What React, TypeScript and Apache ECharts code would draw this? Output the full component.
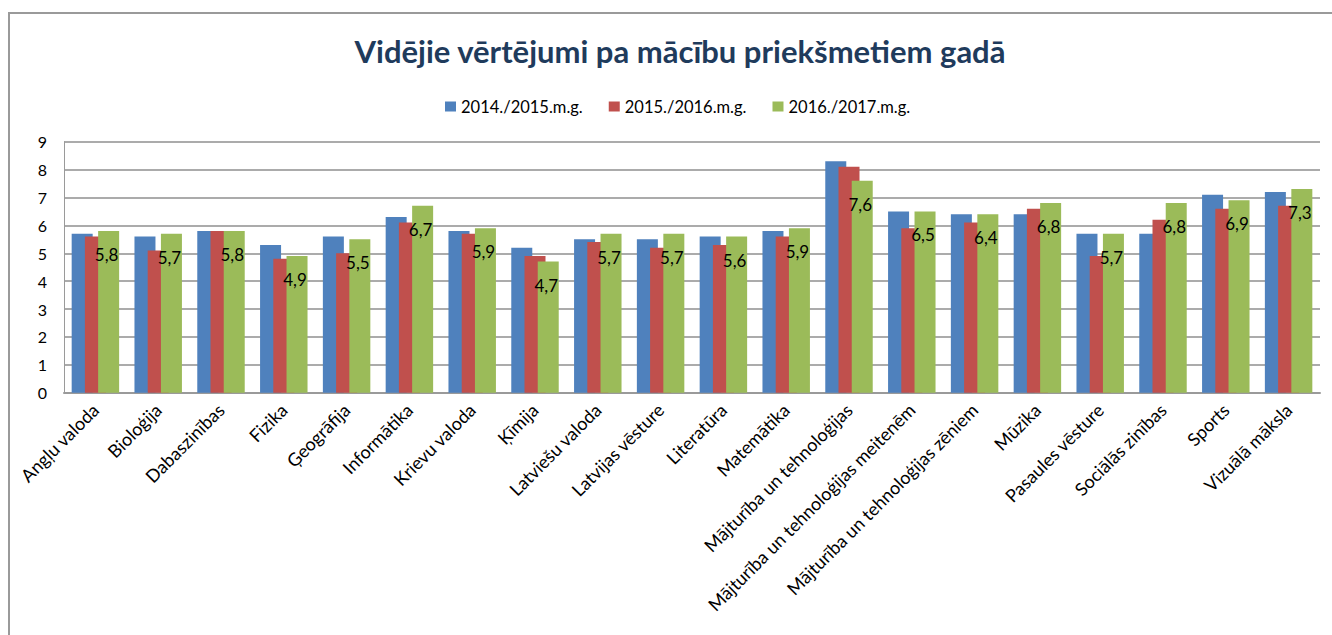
import React, { useEffect, useRef } from "react";
import * as echarts from "echarts";

const categories = [
  "Angļu valoda",
  "Bioloģija",
  "Dabaszinības",
  "Fizika",
  "Ģeogrāfija",
  "Informātika",
  "Krievu valoda",
  "Ķīmija",
  "Latviešu valoda",
  "Latvijas vēsture",
  "Literatūra",
  "Matemātika",
  "Mājturība un tehnoloģijas",
  "Mājturība un tehnoloģijas meitenēm",
  "Mājturība un tehnoloģijas zēniem",
  "Mūzika",
  "Pasaules vēsture",
  "Sociālās zinības",
  "Sports",
  "Vizuālā māksla",
];

const seriesNames = ["2014./2015.m.g.", "2015./2016.m.g.", "2016./2017.m.g."];

const values2014 = [5.7, 5.6, 5.8, 5.3, 5.6, 6.3, 5.8, 5.2, 5.5, 5.5, 5.6, 5.8, 8.3, 6.5, 6.4, 6.4, 5.7, 5.7, 7.1, 7.2];
const values2015 = [5.6, 5.1, 5.8, 4.8, 5.0, 6.1, 5.7, 4.9, 5.4, 5.2, 5.3, 5.6, 8.1, 5.9, 6.1, 6.6, 4.9, 6.2, 6.6, 6.7];
const values2016 = [5.8, 5.7, 5.8, 4.9, 5.5, 6.7, 5.9, 4.7, 5.7, 5.7, 5.6, 5.9, 7.6, 6.5, 6.4, 6.8, 5.7, 6.8, 6.9, 7.3];

const yTicks = { min: 0, max: 9, interval: 1 };
const colors = ["#4F81BD", "#C0504D", "#9BBB59"];
const FONT = "Lato, 'Open Sans', sans-serif";

export default function App() {
  const ref = useRef<HTMLDivElement>(null);
  useEffect(() => {
    if (!ref.current) return;
    const chart = echarts.init(ref.current, null, { renderer: "svg" });
    const mk = (name: string, data: number[], idx: number, withLabel: boolean) => ({
      name,
      type: "bar",
      data,
      barWidth: 21,
      barGap: "-37%",
      itemStyle: { color: colors[idx] },
      label: withLabel
        ? {
            show: true,
            position: "insideTop",
            offset: [-2, 10],
            fontSize: 17,
            fontFamily: FONT,
            color: "#000",
            formatter: (p: any) => Number(p.value).toFixed(1).replace(".", ","),
          }
        : { show: false },
    });
    chart.setOption({
      animation: false,
      textStyle: { fontFamily: FONT },
      title: {
        text: "Vidējie vērtējumi pa mācību priekšmetiem gadā",
        left: 675,
        textAlign: "center",
        top: 30,
        textStyle: { fontSize: 31, fontWeight: "bold", color: "#1F3B5C", fontFamily: FONT },
      },
      legend: {
        top: 93,
        left: 440,
        itemWidth: 11,
        itemHeight: 10,
        itemGap: 26,
        icon: "rect",
        textStyle: { fontSize: 16.5, color: "#000", fontFamily: FONT },
        data: seriesNames,
      },
      graphic: [
        {
          type: "rect",
          shape: { x: 9, y: 13, width: 1340, height: 640 },
          style: { fill: "none", stroke: "#9a9a9a", lineWidth: 2 },
          silent: true,
        },
      ],
      grid: { left: 64, right: 12, top: 141.7, bottom: 242.3, containLabel: false },
      xAxis: {
        type: "category",
        data: categories,
        axisLine: { show: true, lineStyle: { color: "#9a9a9a", width: 2 } },
        axisTick: { show: false },
        axisLabel: {
          interval: 0,
          rotate: 45,
          fontSize: 18,
          color: "#000",
          margin: 14,
          fontFamily: FONT,
        },
      },
      yAxis: {
        type: "value",
        min: yTicks.min,
        max: yTicks.max,
        interval: yTicks.interval,
        axisLine: { show: true, lineStyle: { color: "#9a9a9a", width: 1 } },
        axisTick: { show: false },
        axisLabel: { fontSize: 16, color: "#000", margin: 17, fontFamily: FONT },
        splitLine: { show: true, lineStyle: { color: "#8f8f8f", width: 1.5 } },
      },
      series: [
        mk(seriesNames[0], values2014, 0, false),
        mk(seriesNames[1], values2015, 1, false),
        mk(seriesNames[2], values2016, 2, true),
      ],
    });
    return () => chart.dispose();
  }, []);
  return (
    <div
      ref={ref}
      style={{ position: "absolute", left: 0, top: 0, width: 1332, height: 635, background: "#fff" }}
    />
  );
}
